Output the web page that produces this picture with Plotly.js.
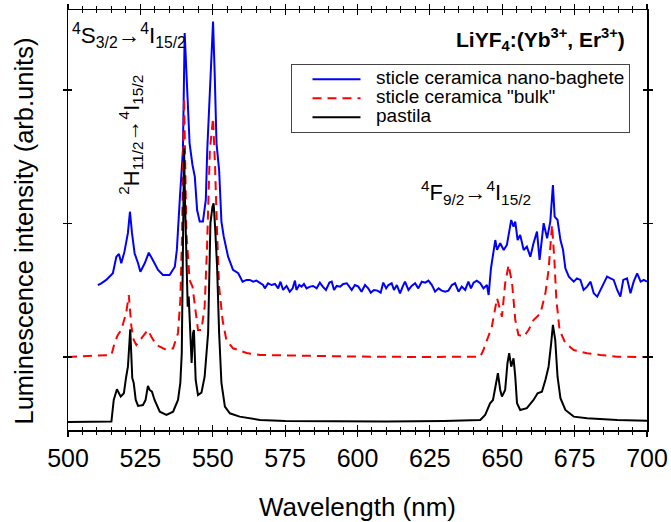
<!DOCTYPE html>
<html>
<head>
<meta charset="utf-8">
<script src="https://cdn.plot.ly/plotly-3.0.1.min.js"></script>
<style>html,body{margin:0;padding:0;background:#fff;}#chart{width:671px;height:522px;}</style>
</head>
<body>
<div id="chart"></div>
<script>
// Wavelength (nm) and luminescence intensity (arb. units)
const nanoX = [510.3,511.5,513.2,514.4,515.5,516.7,517.6,518.4,519.5,520.7,521.4,522.1,523.0,524.2,525.0,526.5,527.9,529.3,531.1,532.8,535.1,536.9,537.6,538.6,539.7,540.3,541.3,542.0,543.0,543.8,544.6,545.5,546.6,547.6,548.1,549.0,550.1,550.7,551.3,552.2,553.0,553.8,555.3,557.0,558.8,560.3,561.7,
562.8,563.95,565.1,566.3,567.4,568.0,569.1,570.3,571.5,572.6,573.4,574.3,575.5,576.6,577.6,578.4,578.9,579.9,580.7,581.5,582.4,583.6,584.7,585.9,587.0,588.0,589.1,590.3,591.1,591.9,592.8,594.0,595.1,596.3,597.2,598.0,599.1,600.3,601.4,602.6,603.7,604.6,605.7,606.9,608.0,608.9,609.9,610.7,611.8,612.6,613.6,614.7,615.6,616.4,617.6,618.7,619.9,621.0,622.2,623.4,624.5,625.7,626.8,628.0,629.1,630.3,631.4,632.6,633.7,634.9,636.0,637.2,638.3,639.2,640.1,641.2,642.4,643.5,644.7,645.3,
646.1,647.6,648.2,649.3,650.5,651.6,653.1,653.9,654.5,655.3,656.2,657.4,658.5,659.7,660.8,662.0,662.9,664.3,665.5,666.6,667.5,668.1,669.1,670.1,671.0,671.8,673.0,674.7,675.8,677.0,678.1,679.3,680.5,681.6,682.8,683.9,685.1,686.2,687.4,688.5,689.7,690.8,691.8,693.1,694.3,695.4,696.6,697.8,698.9,700.0];
const nanoY = [1539,1552,1577,1602,1627,1751,1772,1702,1789,1929,2088,1929,1777,1702,1639,1702,1781,1727,1652,1614,1614,1676,1802,2176,2551,3427,2985,2600,2438,2351,2101,2014,2014,2176,2551,2950,3512,3100,2600,2400,2014,1901,1751,1652,1627,1564,1577,
1577,1564,1572,1552,1539,1514,1552,1539,1547,1514,1564,1502,1532,1489,1514,1572,1502,1539,1527,1547,1514,1527,1532,1514,1557,1527,1502,1557,1564,1502,1532,1527,1547,1552,1527,1502,1539,1527,1489,1539,1514,1482,1502,1497,1482,1557,1514,1539,1552,1502,1539,1477,1527,1564,1502,1532,1552,1514,1564,1557,1572,1539,1489,1514,1497,1489,1497,1539,1552,1489,1527,1502,1564,1514,1557,1572,1552,1514,1539,1464,
1664,1876,1802,1852,1801,1839,2026,1976,2014,1876,1914,1801,1826,1751,1852,1939,1727,2002,1889,2014,2288,2051,2026,1876,1801,1664,1602,1564,1589,1577,1502,1527,1564,1477,1452,1502,1552,1602,1589,1577,1502,1452,1577,1589,1477,1564,1627,1564,1577,1564];

const bulkX = [500.0,515.0,516.1,517.2,518.4,520.1,521.0,521.9,522.7,523.6,526.8,527.6,528.8,530.5,534.0,536.3,538.0,538.8,539.4,539.7,540.1,540.9,542.0,543.0,543.8,544.9,546.1,547.2,548.0,549.0,550.1,550.8,551.5,552.2,553.4,554.7,557.0,561.7,566.3,580.0,600.0,620.0,642.4,
643.5,645.3,646.4,648.2,649.9,651.0,652.2,653.4,654.5,655.6,657.4,659.1,660.8,663.2,664.9,666.0,667.2,668.0,668.7,669.8,671.8,674.7,679.3,683.9,689.7,700.0];
const bulkY = [1000,1015,1105,1165,1202,1330,1464,1227,1127,1090,1180,1202,1152,1090,1052,1065,1180,1427,1929,2551,2940,1929,1577,1527,1377,1202,1202,1377,1802,2551,2790,2426,1929,1527,1277,1127,1065,1030,1015,1008,1003,1000,1002,
1052,1152,1227,1440,1302,1552,1689,1552,1277,1165,1152,1202,1277,1327,1477,1652,1989,1727,1427,1202,1103,1052,1028,1015,1002,1000];

const pastilaX = [500.0,515.0,515.8,516.9,518.2,519.3,520.1,520.7,521.5,521.9,522.2,522.7,523.4,524.2,525.9,526.8,527.6,528.2,529.0,529.9,531.7,534.0,536.3,538.0,538.8,539.3,539.7,540.1,540.4,540.9,541.35,541.7,542.0,542.7,543.2,543.5,544.1,544.9,546.1,547.2,548.4,549.2,549.9,550.3,550.8,551.5,552.2,553.0,554.2,555.9,559.3,566.3,575.0,590.0,610.0,630.0,642.4,
644.1,645.8,646.8,647.9,648.5,649.3,649.9,651.0,651.8,652.4,653.1,653.9,654.5,655.1,656.2,658.5,660.8,662.2,663.7,664.9,666.0,666.9,667.5,668.3,669.1,670.1,671.8,674.7,679.3,689.7,700.0];
const pastilaY = [513,516,678,758,703,728,852,927,1208,927,843,805,678,633,640,678,783,753,740,678,590,566,590,678,805,1030,1802,2563,2176,1676,1377,1452,1302,955,1180,1202,828,715,733,852,1180,2004,2126,2151,1976,1676,1180,805,628,578,553,528,520,516,516,520,528,
566,653,678,828,878,753,703,753,953,1028,927,990,852,653,603,616,678,728,740,828,927,1103,1240,1127,852,691,603,553,541,528,523];

const seriesNames = ['sticle ceramica nano-baghete', 'sticle ceramica "bulk"', 'pastila'];
const xTickStep = 25;
const yTickStep = 1000;

const FONT = 'Arial, "Liberation Sans", sans-serif';
const lg = n => '<span style="font-size:19px">\u00a0\u00a0' + n + '</span>';

const traces = [
  {x: nanoX, y: nanoY, name: lg(seriesNames[0]), type: 'scatter', mode: 'lines',
   line: {color: '#0000ff', width: 2}},
  {x: bulkX, y: bulkY, name: lg(seriesNames[1]), type: 'scatter', mode: 'lines',
   line: {color: '#ff0000', width: 2, dash: '9px,6px'}},
  {x: pastilaX, y: pastilaY, name: lg(seriesNames[2]), type: 'scatter', mode: 'lines',
   line: {color: '#000000', width: 2}},
  {x: [], y: [], xaxis: 'x2', yaxis: 'y2', showlegend: false, hoverinfo: 'skip'}
];

const xr = [500, 700], yr = [453, 3599];
const layout = {
  width: 671, height: 522,
  margin: {l: 68, r: 24, t: 10, b: 92},
  paper_bgcolor: '#fff', plot_bgcolor: '#fff',
  font: {family: FONT, color: '#000'},
  showlegend: true,
  xaxis: {
    range: xr, tick0: 500, dtick: xTickStep, ticks: 'outside', ticklen: 5, tickwidth: 1.2, tickcolor: '#000',
    minor: {dtick: 5, ticks: 'outside', ticklen: 3, tickwidth: 1, tickcolor: '#000'},
    showline: true, linewidth: 1.5, linecolor: '#000', mirror: 'ticks',
    showgrid: false, zeroline: false,
    tickfont: {size: 25, family: FONT, color: '#000'},
    title: {text: 'Wavelength (nm)', font: {size: 26, family: FONT, color: '#000'}, standoff: 27}
  },
  xaxis2: {
    overlaying: 'x', anchor: 'y2', side: 'bottom', range: xr, tick0: 500, dtick: xTickStep,
    ticks: 'inside', ticklen: 5, tickwidth: 1.2, tickcolor: '#000',
    minor: {dtick: 5, ticks: 'inside', ticklen: 3, tickwidth: 1, tickcolor: '#000'},
    showline: false, mirror: 'ticks', showticklabels: false, showgrid: false, zeroline: false
  },
  yaxis: {
    range: yr, tick0: 0, dtick: yTickStep, ticks: 'outside', ticklen: 4, tickwidth: 1.2, tickcolor: '#000',
    showline: true, linewidth: 1.5, linecolor: '#000', mirror: 'ticks',
    showticklabels: false, showgrid: false, zeroline: false
  },
  yaxis2: {
    overlaying: 'y', anchor: 'x2', side: 'left', range: yr, tick0: 0, dtick: yTickStep,
    ticks: 'inside', ticklen: 4, tickwidth: 1.2, tickcolor: '#000',
    showline: false, mirror: 'ticks', showticklabels: false, showgrid: false, zeroline: false
  },
  legend: {
    x: 0.386, y: 0.872, xanchor: 'left', yanchor: 'top',
    bgcolor: '#fff', bordercolor: '#444', borderwidth: 1,
    font: {size: 12, family: FONT, color: '#000'},
    itemwidth: 48, indentation: 15, traceorder: 'normal'
  },
  annotations: [
    {xref: 'paper', yref: 'paper', x: -0.076, y: 0.475, xanchor: 'center', yanchor: 'middle', showarrow: false, textangle: -90,
     text: 'Luminescence intensity (arb.units)', font: {size: 25.5, family: FONT, color: '#000'}},
    {xref: 'paper', yref: 'paper', x: 0.004, y: 0.981, xanchor: 'left', yanchor: 'top', showarrow: false,
     text: '<sup>4</sup>S<sub>3/2</sub>\u2192<sup>4</sup>I<sub>15/2</sub>', font: {size: 22.5, family: FONT, color: '#000'}},
    {xref: 'paper', yref: 'paper', x: 0.108, y: 0.702, xanchor: 'center', yanchor: 'middle', showarrow: false, textangle: -90,
     text: '<sup>2</sup>H<sub>11/2</sub>\u2192<sup>4</sup>I<sub>15/2</sub>', font: {size: 22, family: FONT, color: '#000'}},
    {xref: 'paper', yref: 'paper', x: 0.7055, y: 0.565, xanchor: 'center', yanchor: 'middle', showarrow: false,
     text: '<sup>4</sup>F<sub>9/2</sub>\u2192<sup>4</sup>I<sub>15/2</sub>', font: {size: 22, family: FONT, color: '#000'}},
    {xref: 'paper', yref: 'paper', x: 0.9655, y: 0.9286, xanchor: 'right', yanchor: 'middle', showarrow: false,
     text: '<b>LiYF<sub>4</sub>:(Yb<sup>3+</sup>, Er<sup>3+</sup>)</b>', font: {size: 21, family: FONT, color: '#000'}}
  ]
};

Plotly.newPlot('chart', traces, layout, {staticPlot: true, displayModeBar: false});
</script>
</body>
</html>
